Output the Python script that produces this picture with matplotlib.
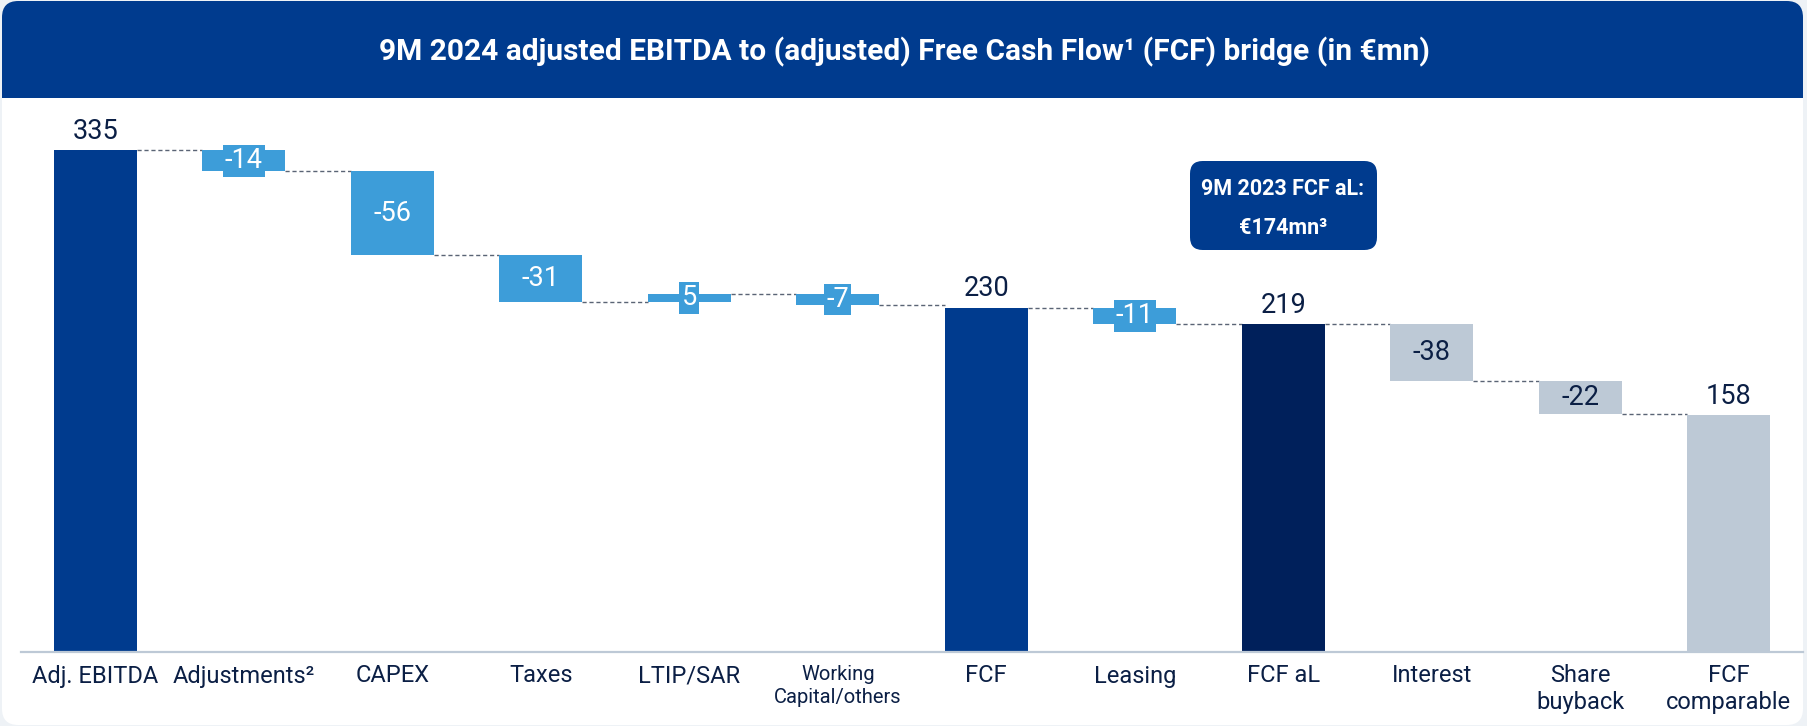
import matplotlib
matplotlib.use("Agg")
import matplotlib.pyplot as plt
from matplotlib.patches import FancyBboxPatch, Rectangle

plt.rcParams['font.family'] = ['Roboto', 'DejaVu Sans']

# ---------------- data ----------------
categories = ["Adj. EBITDA", "Adjustments²", "CAPEX", "Taxes", "LTIP/SAR",
              "Working\nCapital/others", "FCF", "Leasing", "FCF aL", "Interest",
              "Share\nbuyback", "FCF\ncomparable"]
values = [335, -14, -56, -31, 5, -7, 230, -11, 219, -38, -22, 158]
kinds = ["total", "delta", "delta", "delta", "delta", "delta",
         "total", "delta", "total", "delta", "delta", "total"]
title = "9M 2024 adjusted EBITDA to (adjusted) Free Cash Flow¹ (FCF) bridge (in €mn)"
note_lines = ["9M 2023 FCF aL:", "€174mn³"]

# ---------------- styles ----------------
DARK_BLUE = "#003b8e"
LIGHT_BLUE = "#3d9dd9"
NAVY = "#00205b"
GRAY = "#bdc9d6"
TEXT = "#0b1f45"
BG = "#eef2f6"
bar_colors = [DARK_BLUE, LIGHT_BLUE, LIGHT_BLUE, LIGHT_BLUE, LIGHT_BLUE, LIGHT_BLUE,
              DARK_BLUE, LIGHT_BLUE, NAVY, GRAY, GRAY, GRAY]

W, H = 1807, 726
fig = plt.figure(figsize=(W / 100, H / 100), dpi=100, facecolor=BG)


def fx(px):
    return px / W


def fy(py):
    return 1 - py / H


# card
card = FancyBboxPatch((fx(2), fy(725)), fx(1801), (723) / H,
                      boxstyle="round,pad=0,rounding_size=0.009",
                      transform=fig.transFigure, facecolor="white", edgecolor="none",
                      mutation_aspect=W / H, zorder=-3)
fig.add_artist(card)
band = FancyBboxPatch((fx(2), fy(140)), fx(1801), 139 / H,
                      boxstyle="round,pad=0,rounding_size=0.009",
                      transform=fig.transFigure, facecolor=DARK_BLUE, edgecolor="none",
                      mutation_aspect=W / H, zorder=-2)
fig.add_artist(band)
fig.add_artist(Rectangle((fx(2), fy(145)), fx(1801), 47 / H, transform=fig.transFigure,
                         facecolor="white", edgecolor="none", zorder=-1))
fig.text(fx(904), fy(52), title, ha="center", va="center", color="white",
         fontsize=21.5, fontweight="bold")

# ---------------- axes ----------------
ax = fig.add_axes([fx(21), fy(652), fx(1782), (652 - 98) / H])
ax.set_zorder(5)
ax.set_facecolor("none")
ax.set_xlim(-0.5, len(values) - 0.5)
ax.set_ylim(0, 370)

bw = 0.56
level = 0
ends = []
for i, (v, k, c) in enumerate(zip(values, kinds, bar_colors)):
    if k == "total":
        level = v
        ax.bar(i, v, bottom=0, width=bw, color=c, zorder=2)
        ax.annotate(f"{v}", xy=(i, v), xytext=(0, 4), textcoords="offset points",
                    ha="center", va="bottom", fontsize=19.5, color=TEXT)
    else:
        start = level
        level = start + v
        bottom = min(start, level)
        ax.bar(i, abs(v), bottom=bottom, width=bw, color=c, zorder=2)
        tcol = TEXT if c == GRAY else "white"
        ax.text(i, bottom + abs(v) / 2, f"{v}", ha="center", va="center",
                fontsize=19.5, color=tcol, zorder=4,
                bbox=dict(boxstyle="square,pad=0.08", facecolor=c, edgecolor="none"))
    ends.append(level)

for i in range(len(values) - 1):
    ax.plot([i + bw / 2, i + 1 - bw / 2], [ends[i], ends[i]], color="#5a6475",
            lw=1.0, ls=(0, (3, 2)), zorder=1)

ax.set_xticks(range(len(categories)))
ax.set_xticklabels(categories, fontsize=17, color=TEXT, linespacing=1.2)
for lbl, cat in zip(ax.get_xticklabels(), categories):
    if cat.startswith("Working"):
        lbl.set_fontsize(14.5)
        lbl.set_linespacing(1.3)
ax.tick_params(axis="x", length=0, pad=9)
ax.set_yticks([])
for s in ["top", "right", "left"]:
    ax.spines[s].set_visible(False)
ax.spines["bottom"].set_color(GRAY)
ax.spines["bottom"].set_linewidth(1.6)

# note box
note = FancyBboxPatch((fx(1190), fy(250)), fx(187), 89 / H,
                      boxstyle="round,pad=0,rounding_size=0.007",
                      transform=fig.transFigure, facecolor=DARK_BLUE, edgecolor="none",
                      mutation_aspect=W / H, zorder=6)
fig.add_artist(note)
fig.text(fx(1283), fy(189), note_lines[0], ha="center", va="center", color="white",
         fontsize=15.5, fontweight="bold", zorder=7)
fig.text(fx(1283), fy(228), note_lines[1], ha="center", va="center", color="white",
         fontsize=15.5, fontweight="bold", zorder=7)

fig.savefig("out.png", dpi=100, facecolor=BG)
